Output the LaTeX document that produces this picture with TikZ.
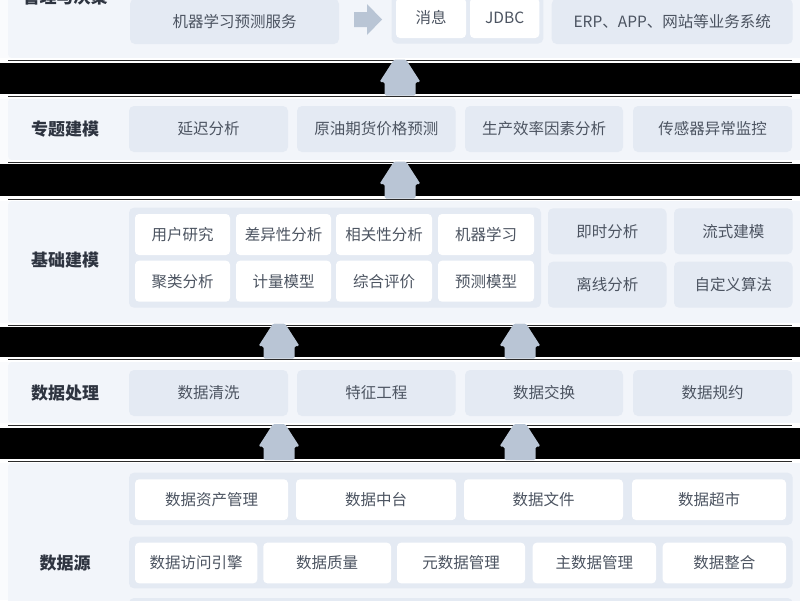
\documentclass[tikz,border=0pt]{standalone}
\usepackage{fontspec}
\setmainfont{Noto Sans CJK SC}
\definecolor{pagebg}{HTML}{FAFBFD}
\definecolor{panelc}{HTML}{F2F5FA}
\definecolor{boxc}{HTML}{E4EAF3}
\definecolor{txtc}{HTML}{4C5461}
\definecolor{titc}{HTML}{2E3440}
\definecolor{arrc}{HTML}{B9C5D5}
\definecolor{linec}{HTML}{2A2A2A}
\tikzset{
  panel/.style={fill=panelc, rounded corners=4pt},
  lbox/.style={fill=boxc, rounded corners=5pt, inner sep=0pt, text=txtc, font=\fontsize{15.5}{18}\selectfont},
  wbox/.style={fill=white, rounded corners=4pt, inner sep=0pt, text=txtc, font=\fontsize{15.5}{18}\selectfont},
  cont/.style={fill=boxc, rounded corners=5pt, inner sep=0pt},
  ltitle/.style={text=titc, font=\fontsize{17}{20}\selectfont\bfseries, inner sep=0pt},
  bandline/.style={draw=linec, line width=1pt},
  arrowfill/.style={fill=arrc, rounded corners=1.5pt}
}
\newcommand\myuparrow[3]{%
  \begin{scope}[shift={(#1,#2)}]
    \fill[arrowfill] (-15.5,#3) -- (-15.5,22.5) -- (-20.5,22.5) -- (-6,0) -- (6,0) -- (20.5,22.5) -- (15.5,22.5) -- (15.5,#3) -- cycle;
  \end{scope}}
\newcommand\myband[4]{%
  \fill[white] (0,#1-2) rectangle (800,#4+2);
  \draw[bandline] (8,#1) -- (792,#1);
  \fill[black] (0,#2) rectangle (800,#3);
  \draw[bandline] (8,#4) -- (792,#4);}
\begin{document}
\begin{tikzpicture}[x=1pt,y=-1pt]
\useasboundingbox (0,0) rectangle (800,600);
\clip (0,0) rectangle (800,600);
\fill[pagebg] (0,0) rectangle (800,600);

% panels
\fill[panel] (8,-10) rectangle (812,58);
\fill[panel] (8,98) rectangle (812,160);
\fill[panel] (8,201) rectangle (812,323);
\fill[panel] (8,362) rectangle (812,423);
\fill[panel] (8,463) rectangle (812,620);

% bands
\myband{60}{62.5}{93.5}{96.5}
\myband{162}{164}{195.5}{199}
\myband{325}{327}{357}{359.5}
\myband{425}{427.5}{458.5}{461}

% ---- layer 1
\node[ltitle] (t1) at (65,-3.5) {管理与决策};
\node[lbox, minimum width=209pt, minimum height=45pt] (ml) at (234.5,21.5) {机器学习预测服务};
\node[cont, minimum width=151.6pt, minimum height=49.5pt] (c1) at (467.5,18.75) {};
\node[wbox, minimum width=70pt, minimum height=40pt] (msg) at (431,18) {消息};
\node[wbox, minimum width=69.3pt, minimum height=40pt] (jdbc) at (504.65,18) {JDBC};
\node[lbox, minimum width=241pt, minimum height=45pt] (erp) at (672.2,21.5) {ERP、APP、网站等业务系统};
\fill[arrc] (354,12) -- (367,12) -- (367,4) -- (382,19.5) -- (367,35) -- (367,27) -- (354,27) -- cycle;

% ---- layer 2
\node[ltitle] (t2) at (65,129) {专题建模};
\node[lbox, minimum width=159pt, minimum height=46pt] (p1) at (208.5,129) {延迟分析};
\node[lbox, minimum width=158.5pt, minimum height=46pt] (p2) at (376.25,129) {原油期货价格预测};
\node[lbox, minimum width=158pt, minimum height=46pt] (p3) at (544,129) {生产效率因素分析};
\node[lbox, minimum width=159pt, minimum height=46pt] (p4) at (712.5,129) {传感器异常监控};

% ---- layer 3
\node[ltitle] (t3) at (65,260) {基础建模};
\node[cont, minimum width=412pt, minimum height=100pt] (c3) at (335,257.7) {};
\node[wbox, minimum width=95pt, minimum height=41pt] (b11) at (182.5,234.5) {用户研究};
\node[wbox, minimum width=95pt, minimum height=41pt] (b12) at (283.5,234.5) {差异性分析};
\node[wbox, minimum width=96pt, minimum height=41pt] (b13) at (384,234.5) {相关性分析};
\node[wbox, minimum width=96pt, minimum height=41pt] (b14) at (486,234.5) {机器学习};
\node[wbox, minimum width=95pt, minimum height=41pt] (b21) at (182.5,281.2) {聚类分析};
\node[wbox, minimum width=95pt, minimum height=41pt] (b22) at (283.5,281.2) {计量模型};
\node[wbox, minimum width=96pt, minimum height=41pt] (b23) at (384,281.2) {综合评价};
\node[wbox, minimum width=96pt, minimum height=41pt] (b24) at (486,281.2) {预测模型};
\node[lbox, minimum width=118.5pt, minimum height=46pt] (r11) at (607.25,231.3) {即时分析};
\node[lbox, minimum width=118.5pt, minimum height=46pt] (r12) at (733.25,231.3) {流式建模};
\node[lbox, minimum width=118.5pt, minimum height=46pt] (r21) at (607.25,284.7) {离线分析};
\node[lbox, minimum width=118.5pt, minimum height=46pt] (r22) at (733.25,284.7) {自定义算法};

% ---- layer 4
\node[ltitle] (t4) at (65,393) {数据处理};
\node[lbox, minimum width=159pt, minimum height=46pt] (d1) at (208.5,393) {数据清洗};
\node[lbox, minimum width=158.5pt, minimum height=46pt] (d2) at (376.25,393) {特征工程};
\node[lbox, minimum width=158pt, minimum height=46pt] (d3) at (544,393) {数据交换};
\node[lbox, minimum width=159pt, minimum height=46pt] (d4) at (712.5,393) {数据规约};

% ---- layer 5
\node[ltitle] (t5) at (65,563) {数据源};
\node[cont, minimum width=663.7pt, minimum height=52.3pt] (c51) at (460.85,498.85) {};
\node[wbox, minimum width=153pt, minimum height=40.7pt] (s11) at (211.5,499.7) {数据资产管理};
\node[wbox, minimum width=160pt, minimum height=40.7pt] (s12) at (376,499.7) {数据中台};
\node[wbox, minimum width=159pt, minimum height=40.7pt] (s13) at (543.5,499.7) {数据文件};
\node[wbox, minimum width=154pt, minimum height=40.7pt] (s14) at (709,499.7) {数据超市};
\node[cont, minimum width=663.7pt, minimum height=51.6pt] (c52) at (460.85,562.5) {};
\node[wbox, minimum width=122.3pt, minimum height=40.6pt] (s21) at (196.15,563) {数据访问引擎};
\node[wbox, minimum width=127.7pt, minimum height=40.6pt] (s22) at (327.15,563) {数据质量};
\node[wbox, minimum width=128pt, minimum height=40.6pt] (s23) at (461,563) {元数据管理};
\node[wbox, minimum width=123.3pt, minimum height=40.6pt] (s24) at (594.35,563) {主数据管理};
\node[wbox, minimum width=123.3pt, minimum height=40.6pt] (s25) at (724.35,563) {数据整合};
\node[cont, minimum width=663.7pt, minimum height=40pt] (c53) at (460.85,618) {};

% ---- arrows
\myuparrow{400}{59.5}{36}
\myuparrow{400}{161.5}{37}
\myuparrow{279}{323.5}{35}
\myuparrow{520}{323.5}{35}
\myuparrow{279}{424}{36}
\myuparrow{520}{424}{36}
\end{tikzpicture}
\end{document}
